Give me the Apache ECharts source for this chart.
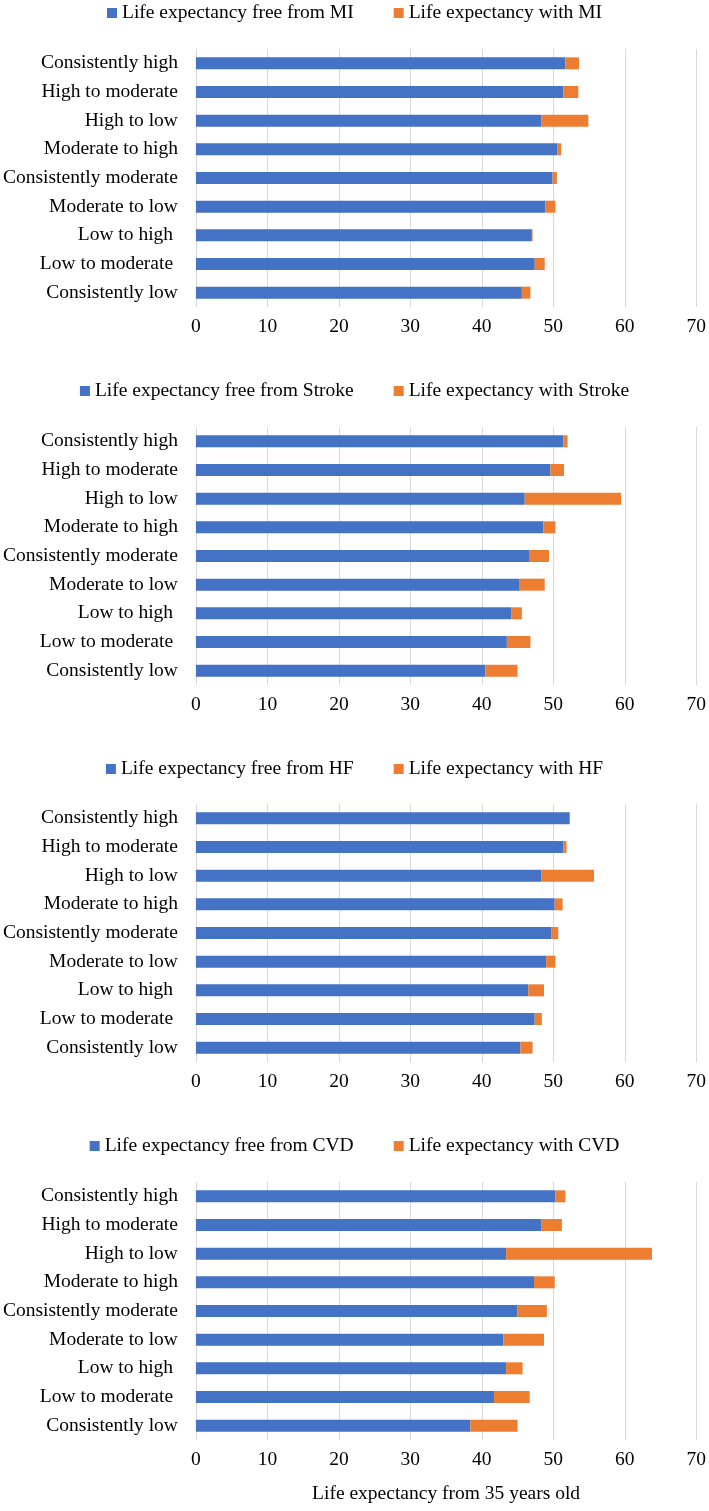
<!DOCTYPE html>
<html>
<head>
<meta charset="utf-8">
<script src="https://cdn.jsdelivr.net/npm/echarts@6/dist/echarts.min.js"></script>
<style>
  html, body { margin: 0; padding: 0; background: #fff; }
  #chart { width: 709px; height: 1511px; }
</style>
</head>
<body>
<div id="chart"></div>
<script>
// categories, top to bottom
var categories = ["Consistently high", "High to moderate", "High to low", "Moderate to high",
    "Consistently moderate", "Moderate to low", "Low to high ", "Low to moderate ", "Consistently low"];
var outcomes = ["MI", "Stroke", "HF", "CVD"];
var xTicks = [0, 10, 20, 30, 40, 50, 60, 70];

// years free from / with each condition
var freeMI = [51.7, 51.4, 48.3, 50.6, 49.9, 48.9, 47.0, 47.4, 45.6];
var withMI = [1.9, 2.1, 6.6, 0.5, 0.6, 1.4, 0.1, 1.4, 1.2];
var freeStroke = [51.4, 49.6, 46.0, 48.6, 46.6, 45.3, 44.1, 43.5, 40.5];
var withStroke = [0.6, 1.9, 13.5, 1.7, 2.8, 3.5, 1.5, 3.3, 4.5];
var freeHF = [52.2, 51.4, 48.3, 50.2, 49.7, 49.0, 46.5, 47.4, 45.4];
var withHF = [0.15, 0.45, 7.4, 1.1, 1.0, 1.3, 2.2, 1.0, 1.7];
var freeCVD = [50.3, 48.3, 43.4, 47.3, 45.0, 43.0, 43.4, 41.7, 38.4];
var withCVD = [1.4, 2.9, 20.4, 2.9, 4.1, 5.7, 2.3, 5.0, 6.6];

var freeData = [freeMI, freeStroke, freeHF, freeCVD];
var withData = [withMI, withStroke, withHF, withCVD];

var chart = echarts.init(document.getElementById("chart"));
var font = "Liberation Serif";
var fs = 19.5;
var gridTops = [49, 427, 804, 1182];
var gridH = 258;
var legendTops = [3, 381, 759, 1136];

var grids = [], xAxes = [], yAxes = [], legends = [], series = [];
outcomes.forEach(function (o, i) {
    grids.push({ left: 194, right: 8, top: gridTops[i], height: gridH });
    xAxes.push({
        type: "value", gridIndex: i, min: xTicks[0], max: xTicks[xTicks.length - 1], interval: 10,
        axisLine: { show: false }, axisTick: { show: false },
        splitLine: { lineStyle: { color: "#d9d9d9", width: 1 } },
        axisLabel: { margin: 10, color: "#000", fontFamily: font, fontSize: fs },
        name: i === 3 ? "Life expectancy from 35 years old" : "",
        nameLocation: "middle", nameGap: 44,
        nameTextStyle: { color: "#000", fontFamily: font, fontSize: fs }
    });
    yAxes.push({
        type: "category", gridIndex: i, data: categories, inverse: true,
        axisLine: { show: false }, axisTick: { show: false },
        axisLabel: { margin: 18, color: "#000", fontFamily: font, fontSize: fs }
    });
    var n1 = "Life expectancy free from " + o, n2 = "Life expectancy with " + o;
    legends.push({
        top: legendTops[i], left: "center", padding: [0, 0, 0, 20],
        data: [n1, n2], itemWidth: 10, itemHeight: 10, itemGap: 40,
        icon: "rect",
        textStyle: { color: "#000", fontFamily: font, fontSize: fs }
    });
    series.push({
        name: n1, type: "bar", stack: "s" + i, xAxisIndex: i, yAxisIndex: i,
        barWidth: 12, itemStyle: { color: "#4472C4" }, data: freeData[i]
    });
    series.push({
        name: n2, type: "bar", stack: "s" + i, xAxisIndex: i, yAxisIndex: i,
        barWidth: 12, itemStyle: { color: "#ED7D31" }, data: withData[i]
    });
});

chart.setOption({
    animation: false,
    grid: grids,
    xAxis: xAxes,
    yAxis: yAxes,
    legend: legends,
    series: series
});
</script>
</body>
</html>
